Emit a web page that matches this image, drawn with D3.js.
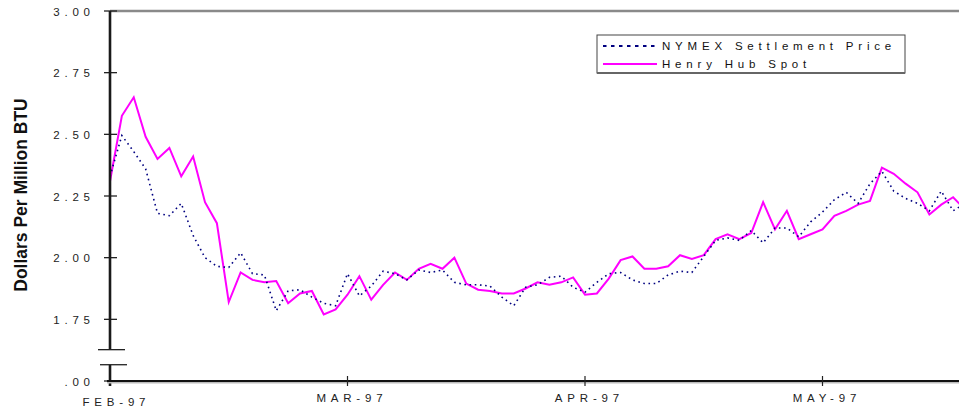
<!DOCTYPE html>
<html><head><meta charset="utf-8">
<script src="https://cdn.jsdelivr.net/npm/d3@7"></script>
<style>
html,body{margin:0;padding:0;background:#fff;}
svg{display:block;}
text{font-family:"Liberation Sans",Arial,sans-serif;}
</style></head>
<body>
<svg id="chart" width="959" height="411"></svg>
<script>
// ---- data ----
const monthLabels = ["FEB-97", "MAR-97", "APR-97", "MAY-97"];
const monthStartIndex = [0, 20, 40, 60];
const yTickValues = [3.00, 2.75, 2.50, 2.25, 2.00, 1.75, 1.50];
const yTickLabels = ["3.00", "2.75", "2.50", "2.25", "2.00", "1.75", ".00"];
const seriesNames = ["NYMEX Settlement Price", "Henry Hub Spot"];
const nymex = [2.33,2.495,2.43,2.36,2.18,2.17,2.22,2.09,2.00,1.965,
  1.96,2.02,1.935,1.93,1.785,1.865,1.87,1.84,1.815,1.805,
  1.935,1.845,1.885,1.945,1.935,1.91,1.95,1.94,1.95,1.90,
  1.89,1.89,1.885,1.84,1.805,1.88,1.89,1.92,1.925,1.88,
  1.86,1.90,1.935,1.94,1.91,1.895,1.895,1.93,1.945,1.94,
  2.005,2.07,2.08,2.07,2.11,2.06,2.12,2.12,2.085,2.145,
  2.185,2.235,2.265,2.22,2.30,2.35,2.27,2.24,2.22,2.19,
  2.27,2.19,2.22];
const henryHub = [2.31,2.575,2.65,2.49,2.40,2.445,2.33,2.41,2.225,2.14,
  1.82,1.94,1.91,1.90,1.905,1.815,1.855,1.865,1.77,1.79,
  1.85,1.925,1.83,1.89,1.94,1.91,1.955,1.975,1.955,2.00,
  1.895,1.87,1.865,1.855,1.855,1.875,1.90,1.89,1.90,1.92,
  1.85,1.855,1.915,1.99,2.005,1.955,1.955,1.965,2.01,1.995,
  2.01,2.075,2.095,2.075,2.10,2.225,2.115,2.19,2.075,2.095,
  2.115,2.17,2.19,2.215,2.23,2.365,2.34,2.30,2.265,2.175,
  2.215,2.245,2.195];

// ---- layout ----
const svg = d3.select("#chart");
const x0 = 110, yTop = 11, yBot = 381, step = 11.875;
const ls = 4.8; // letter spacing
const x = d3.scaleLinear().domain([0, henryHub.length - 1]).range([x0, x0 + step * (henryHub.length - 1)]);
const y = d3.scaleLinear().domain([1.5, 3.0]).range([yBot, yTop]);

// top border line
svg.append("line").attr("x1", x0).attr("x2", 959).attr("y1", yTop).attr("y2", yTop)
  .attr("stroke", "#8a8a8a").attr("stroke-width", 2.5);

// lines
const line = d3.line().x((d, i) => x(i)).y(d => y(d));
svg.append("path").datum(henryHub).attr("d", line).attr("fill", "none")
  .attr("stroke", "#ff00ff").attr("stroke-width", 2).attr("stroke-linejoin", "miter");
svg.append("path").datum(nymex).attr("d", line).attr("fill", "none")
  .attr("stroke", "#000080").attr("stroke-width", 1.6).attr("stroke-dasharray", "1.6,3.6");

// y axis (labels via d3 axis)
const yAxis = d3.axisLeft(y).tickValues(yTickValues)
  .tickFormat((d, i) => yTickLabels[i]).tickSize(0).tickPadding(0);
const gy = svg.append("g").attr("transform", `translate(${90 + ls},0)`).call(yAxis);
gy.select(".domain").remove();
gy.selectAll("text").attr("font-size", "11.5px").attr("fill", "#222")
  .attr("letter-spacing", ls + "px").attr("dy", "0.36em");

// y ticks crossing the axis
svg.append("g").selectAll("line").data(yTickValues).join("line")
  .attr("x1", 104).attr("x2", 117).attr("y1", d => y(d)).attr("y2", d => y(d))
  .attr("stroke", "#222").attr("stroke-width", 1.3);

// y axis line with break
const breakHi = 1.627, breakLo = 1.566;
svg.append("line").attr("x1", x0).attr("x2", x0).attr("y1", yTop).attr("y2", y(breakHi))
  .attr("stroke", "#1a1a1a").attr("stroke-width", 2.6);
svg.append("line").attr("x1", x0).attr("x2", x0).attr("y1", y(breakLo)).attr("y2", yBot + 5)
  .attr("stroke", "#1a1a1a").attr("stroke-width", 2.6);
svg.append("line").attr("x1", 98).attr("x2", 125).attr("y1", y(breakHi)).attr("y2", y(breakHi))
  .attr("stroke", "#222").attr("stroke-width", 1.3);
svg.append("line").attr("x1", 100).attr("x2", 127).attr("y1", y(breakLo)).attr("y2", y(breakLo))
  .attr("stroke", "#222").attr("stroke-width", 1.3);

// x axis line
svg.append("line").attr("x1", x0 - 3).attr("x2", 959).attr("y1", yBot + 1).attr("y2", yBot + 1)
  .attr("stroke", "#bbb").attr("stroke-width", 3);
svg.append("line").attr("x1", x0 - 3).attr("x2", 959).attr("y1", yBot).attr("y2", yBot)
  .attr("stroke", "#111").attr("stroke-width", 2);

// x ticks
svg.append("g").selectAll("line").data(monthStartIndex.slice(1)).join("line")
  .attr("x1", d => x(d)).attr("x2", d => x(d)).attr("y1", yBot - 5).attr("y2", yBot + 5)
  .attr("stroke", "#222").attr("stroke-width", 1.2);

// x labels
svg.append("g").selectAll("text").data(monthLabels).join("text")
  .attr("x", (d, i) => x(monthStartIndex[i]) + (i === 0 ? 4 : 2) + ls / 2)
  .attr("y", (d, i) => i === 0 ? 406 : 402)
  .attr("text-anchor", "middle").attr("font-size", "11.5px").attr("fill", "#222")
  .attr("letter-spacing", ls + "px").text(d => d);

// y title
svg.append("text").attr("transform", "translate(27,195) rotate(-90)")
  .attr("text-anchor", "middle").attr("font-size", "17.5px").attr("font-weight", "bold")
  .attr("fill", "#111").text("Dollars Per Million BTU");

// legend
const lg = svg.append("g");
lg.append("rect").attr("x", 597).attr("y", 35).attr("width", 308).attr("height", 38)
  .attr("fill", "#fff").attr("stroke", "#444").attr("stroke-width", 1);
lg.append("line").attr("x1", 597).attr("x2", 905).attr("y1", 73).attr("y2", 73)
  .attr("stroke", "#666").attr("stroke-width", 2);
lg.append("line").attr("x1", 603).attr("x2", 657).attr("y1", 46).attr("y2", 46)
  .attr("stroke", "#000080").attr("stroke-width", 2).attr("stroke-dasharray", "3.5,4.5");
lg.append("line").attr("x1", 603).attr("x2", 657).attr("y1", 64).attr("y2", 64)
  .attr("stroke", "#ff00ff").attr("stroke-width", 2);
lg.selectAll("text.lt").data(seriesNames).join("text").attr("class", "lt")
  .attr("x", 662).attr("y", (d, i) => 50 + i * 18)
  .attr("font-size", "11.5px").attr("fill", "#111").attr("letter-spacing", ls + "px")
  .text(d => d);
</script>
</body></html>
